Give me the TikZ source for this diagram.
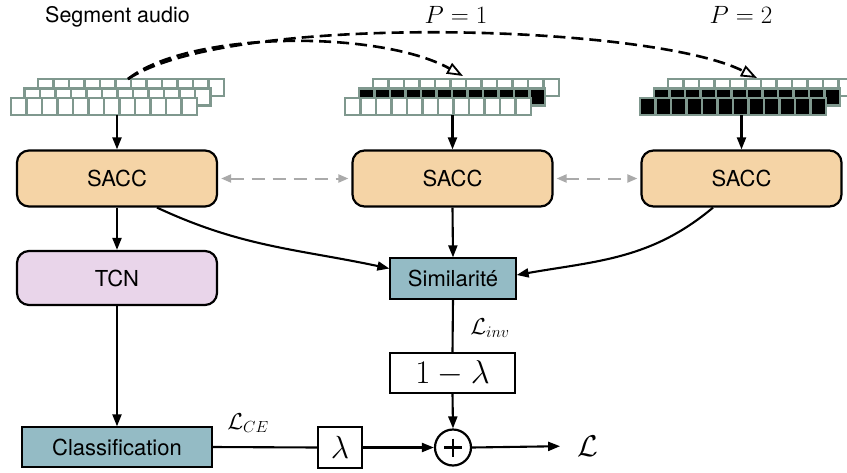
\RequirePackage{fix-cm}
\documentclass[tikz,border=0pt]{standalone}
\usepackage{fontspec}
\newfontfamily\hv{TeX Gyre Heros}
\usetikzlibrary{arrows.meta}
\definecolor{peach}{HTML}{F5D4A6}
\definecolor{lav}{HTML}{E9D5EA}
\definecolor{simcol}{HTML}{94BBC5}
\definecolor{cellgrey}{HTML}{7F988E}
\definecolor{dashgrey}{HTML}{AAAAAA}
\newcommand{\cellrow}[3]{%
  \foreach \i in {0,...,11}{\draw[cell,fill=#3] ({#1+\i*15.5},#2) rectangle ++(15.5,17);}}
\tikzset{
  cell/.style={draw=cellgrey, line width=2.4pt},
  sacc/.style={draw, line width=2.2pt, rounded corners=12pt, fill=peach,
    minimum width=200pt, minimum height=56pt, inner sep=0pt,
    font=\hv\fontsize{22}{25}\selectfont},
  simbox/.style={draw, line width=1.3pt, fill=simcol, minimum width=126pt,
    minimum height=41pt, inner sep=0pt, font=\hv\fontsize{22}{25}\selectfont},
  wbox/.style={draw, line width=1.3pt, fill=white, inner sep=0pt},
  arr/.style={-{Triangle[length=12pt,width=9pt]}, line width=2.1pt},
  plain/.style={line width=2.1pt},
  garr/.style={{Triangle[length=10pt,width=8pt]}-{Triangle[length=10pt,width=8pt]},
    draw=dashgrey, line width=2pt, dash pattern=on 13pt off 8pt,
    shorten <=3pt, shorten >=3pt},
  dcurve/.style={-{Triangle[fill=white,length=16pt,width=12pt,line width=1.8pt]},
    line width=2.6pt, dash pattern=on 12pt off 6pt},
}
\begin{document}
\begin{tikzpicture}[x=1pt,y=-1pt]
\useasboundingbox (0,0) rectangle (847,472);
\fill[white] (0,0) rectangle (847,472);
% header texts
\node[font=\hv\fontsize{21.5}{24}\selectfont, anchor=base] (seg) at (117.5,22) {Segment audio};
\node[font=\fontsize{25}{28}\selectfont, anchor=base] (p1) at (456,23) {$P=1$};
\node[font=\fontsize{25}{28}\selectfont, anchor=base] (p2) at (741,23) {$P=2$};
% stack 1
\cellrow{38}{79}{white}
\cellrow{24.5}{88.5}{white}
\cellrow{11}{98}{white}
% stack 2
\cellrow{373}{79}{white}
\cellrow{359}{88.5}{black}
\cellrow{345}{98}{white}
% stack 3
\cellrow{668}{79}{white}
\cellrow{654}{88.5}{black}
\cellrow{640}{98}{black}
\coordinate (s1) at (117,115);
\coordinate (s2) at (452.5,115);
\coordinate (s3) at (741.5,115);
\coordinate (d0) at (128,79);
\coordinate (d1) at (463,76);
\coordinate (d2) at (757,78);
% boxes
\node[sacc] (sacc1) at (117,178.5) {SACC};
\node[sacc] (sacc2) at (452.5,178.5) {SACC};
\node[sacc] (sacc3) at (741.5,178.5) {SACC};
\node[sacc, fill=lav, minimum height=54pt] (tcn) at (117,278) {TCN};
\node[simbox] (sim) at (453,278.5) {Similarité};
\node[simbox, minimum width=190pt, minimum height=40pt] (cls) at (117,447) {Classification};
\node[wbox, minimum width=125pt, minimum height=40pt, font=\fontsize{33}{36}\selectfont] (oml) at (452.5,373) {$1-\lambda$};
\node[wbox, minimum width=44pt, minimum height=41pt, font=\fontsize{32}{36}\selectfont] (lam) at (340,447.5) {$\lambda$};
\node[circle, draw, line width=2.2pt, minimum size=36pt, inner sep=0pt] (plus) at (453,447.5) {};
\draw[line width=2.4pt] (plus.center) ++(-9,0) -- ++(18,0);
\draw[line width=2.4pt] (plus.center) ++(0,-9) -- ++(0,18);
\node[font=\fontsize{30}{32}\selectfont] (L) at (588,446) {$\mathcal{L}$};
\node[font=\fontsize{23}{26}\selectfont] (lce) at (248,423) {$\mathcal{L}_{CE}$};
\node[font=\fontsize{23}{26}\selectfont] (linv) at (490,328) {$\mathcal{L}_{inv}$};
% dashed curves
\draw[dcurve] (d0) .. controls (190,30) and (380,30) .. (d1);
\draw[dcurve] (d0) .. controls (230,12) and (650,24) .. (d2);
% connectors
\draw[arr] (s1) -- (sacc1.north);
\draw[arr] (s2) -- (sacc2.north);
\draw[arr] (s3) -- (sacc3.north);
\draw[garr] (sacc1.east) -- (sacc2.west);
\draw[garr] (sacc2.east) -- (sacc3.west);
\draw[arr] (sacc1.south) -- (tcn.north);
\draw[arr] (tcn.south) -- (cls.north);
\draw[arr] ([xshift=40pt]sacc1.south) to[out=-25,in=168] ([yshift=10pt]sim.west);
\draw[arr] ([xshift=-28.5pt]sacc3.south) to[out=-140,in=10] ([yshift=3.5pt]sim.east);
\draw[arr] (sacc2.south) -- (sim.north);
\draw[plain] (sim.south) -- (oml.north);
\draw[arr] (oml.south) -- (plus.north);
\draw[plain] (cls.east) -- (lam.west);
\draw[arr] (lam.east) -- (plus.west);
\draw[arr, shorten >=14pt] (plus.east) -- (L.west);
\end{tikzpicture}
\end{document}
